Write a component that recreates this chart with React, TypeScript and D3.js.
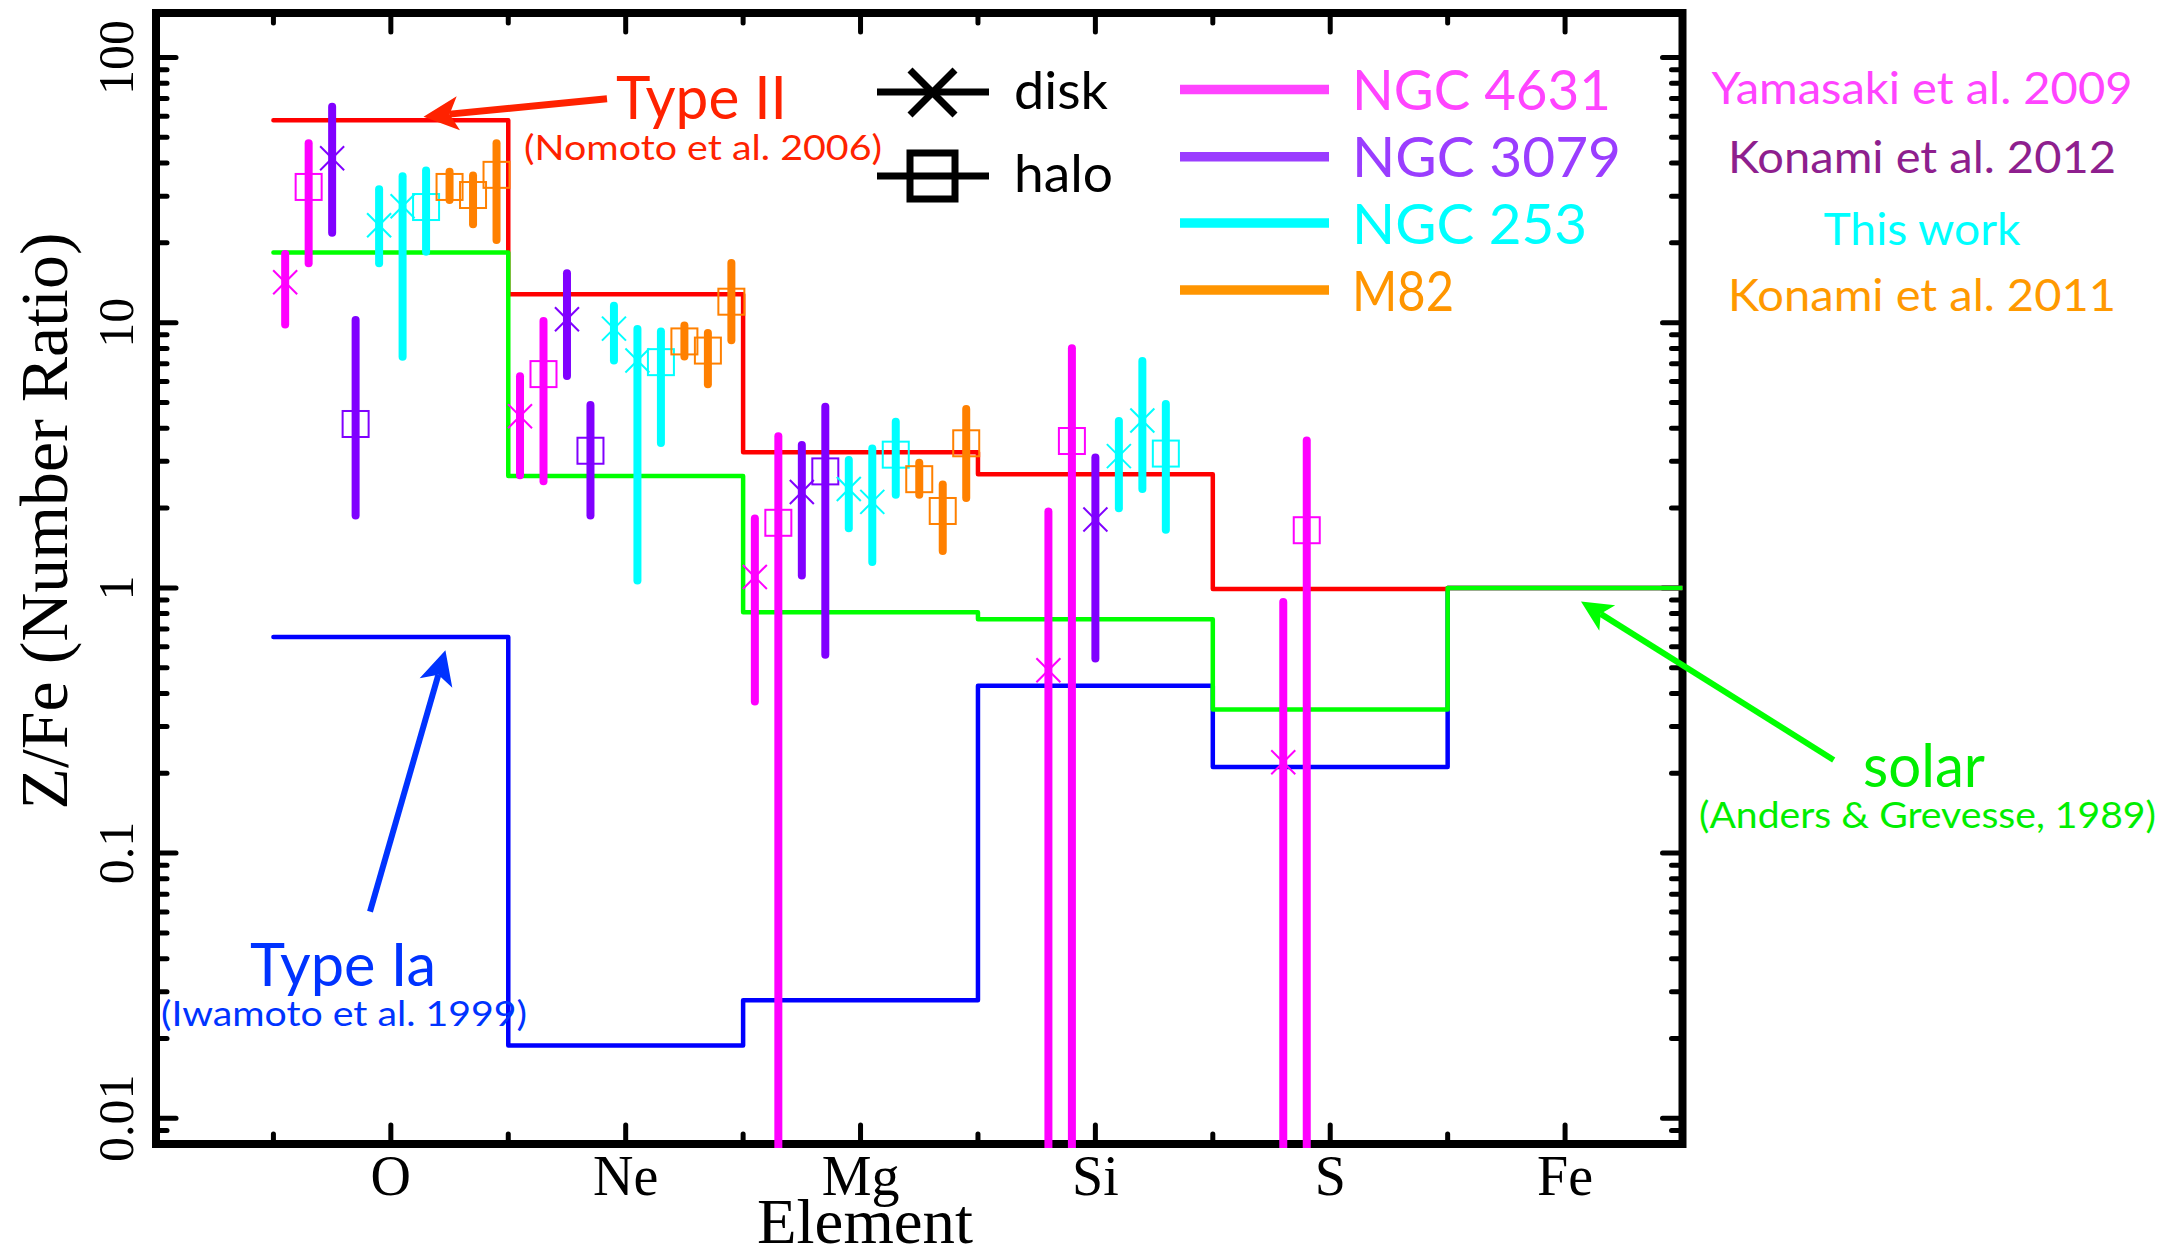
import React from "react";
import * as d3 from "d3";

// ---------- data ----------
const elements = ["O", "Ne", "Mg", "Si", "S", "Fe"];

// model step lines (Z/Fe number ratio per element)
const typeII = [58, 12.8, 3.25, 2.68, 0.99, 1.0];
const solar = [18.4, 2.64, 0.81, 0.762, 0.348, 1.0];
const typeIa = [0.653, 0.0188, 0.0279, 0.428, 0.211, 1.0];

type Pt = { el: string; dx: number; kind: "disk" | "halo"; v: number; lo: number; hi: number };

const ngc4631: Pt[] = [
  { el: "O", dx: -0.45, kind: "disk", v: 14.2, lo: 9.5, hi: 18.8 },
  { el: "O", dx: -0.35, kind: "halo", v: 32.5, lo: 16.2, hi: 49.2 },
  { el: "Ne", dx: -0.45, kind: "disk", v: 4.44, lo: 2.57, hi: 6.5 },
  { el: "Ne", dx: -0.35, kind: "halo", v: 6.4, lo: 2.44, hi: 10.5 },
  { el: "Mg", dx: -0.45, kind: "disk", v: 1.1, lo: 0.36, hi: 1.89 },
  { el: "Mg", dx: -0.35, kind: "halo", v: 1.76, lo: 0.001, hi: 3.86 },
  { el: "Si", dx: -0.2, kind: "disk", v: 0.489, lo: 0.001, hi: 2.01 },
  { el: "Si", dx: -0.1, kind: "halo", v: 3.58, lo: 0.001, hi: 8.3 },
  { el: "S", dx: -0.2, kind: "disk", v: 0.22, lo: 0.001, hi: 0.916 },
  { el: "S", dx: -0.1, kind: "halo", v: 1.65, lo: 0.001, hi: 3.72 },
];

const ngc3079: Pt[] = [
  { el: "O", dx: -0.25, kind: "disk", v: 41.7, lo: 21.1, hi: 67.5 },
  { el: "O", dx: -0.15, kind: "halo", v: 4.15, lo: 1.81, hi: 10.6 },
  { el: "Ne", dx: -0.25, kind: "disk", v: 10.3, lo: 6.08, hi: 15.9 },
  { el: "Ne", dx: -0.15, kind: "halo", v: 3.29, lo: 1.81, hi: 5.07 },
  { el: "Mg", dx: -0.25, kind: "disk", v: 2.3, lo: 1.076, hi: 3.58 },
  { el: "Mg", dx: -0.15, kind: "halo", v: 2.75, lo: 0.54, hi: 4.99 },
  { el: "Si", dx: 0.0, kind: "disk", v: 1.81, lo: 0.523, hi: 3.21 },
];

const ngc253: Pt[] = [
  { el: "O", dx: -0.05, kind: "disk", v: 23.3, lo: 16.2, hi: 33.0 },
  { el: "O", dx: 0.05, kind: "disk", v: 27.5, lo: 7.18, hi: 36.9 },
  { el: "O", dx: 0.15, kind: "halo", v: 27.3, lo: 17.9, hi: 38.8 },
  { el: "Ne", dx: -0.05, kind: "disk", v: 9.5, lo: 6.95, hi: 12.0 },
  { el: "Ne", dx: 0.05, kind: "disk", v: 7.2, lo: 1.03, hi: 9.8 },
  { el: "Ne", dx: 0.15, kind: "halo", v: 7.1, lo: 3.4, hi: 9.6 },
  { el: "Mg", dx: -0.05, kind: "disk", v: 2.36, lo: 1.62, hi: 3.14 },
  { el: "Mg", dx: 0.05, kind: "disk", v: 2.11, lo: 1.21, hi: 3.47 },
  { el: "Mg", dx: 0.15, kind: "halo", v: 3.18, lo: 2.17, hi: 4.38 },
  { el: "Si", dx: 0.1, kind: "disk", v: 3.14, lo: 1.93, hi: 4.41 },
  { el: "Si", dx: 0.2, kind: "disk", v: 4.28, lo: 2.28, hi: 7.43 },
  { el: "Si", dx: 0.3, kind: "halo", v: 3.21, lo: 1.6, hi: 5.11 },
];

const m82: Pt[] = [
  { el: "O", dx: 0.25, kind: "halo", v: 32.5, lo: 28.0, hi: 38.4 },
  { el: "O", dx: 0.35, kind: "halo", v: 30.3, lo: 22.7, hi: 37.2 },
  { el: "O", dx: 0.45, kind: "halo", v: 36.1, lo: 19.8, hi: 49.2 },
  { el: "Ne", dx: 0.25, kind: "halo", v: 8.5, lo: 7.2, hi: 10.1 },
  { el: "Ne", dx: 0.35, kind: "halo", v: 7.85, lo: 5.66, hi: 9.46 },
  { el: "Ne", dx: 0.45, kind: "halo", v: 12.0, lo: 8.3, hi: 17.4 },
  { el: "Mg", dx: 0.25, kind: "halo", v: 2.57, lo: 2.17, hi: 3.07 },
  { el: "Mg", dx: 0.35, kind: "halo", v: 1.95, lo: 1.33, hi: 2.54 },
  { el: "Mg", dx: 0.45, kind: "halo", v: 3.51, lo: 2.11, hi: 4.89 },
];

const galaxyNames = ["NGC 4631", "NGC 3079", "NGC 253", "M82"];
const galaxyRefs = ["Yamasaki et al. 2009", "Konami et al. 2012", "This work", "Konami et al. 2011"];
const galaxyData = [ngc4631, ngc3079, ngc253, m82];

const yMajorTicks = [0.01, 0.1, 1, 10, 100];
const yTickLabels = ["0.01", "0.1", "1", "10", "100"];

// ---------- styles ----------
const dataColors = ["#ff00ff", "#8000ff", "#00ffff", "#ff8000"];
const legendColors = ["#ff44ff", "#9a3dff", "#00ffff", "#ff9500"];
const refColors = ["#ff44ff", "#8e1f8e", "#00ffff", "#ff9900"];
const SANS = "Lato, 'Open Sans', sans-serif";
const SERIF = "'Liberation Serif', 'DejaVu Serif', serif";

function arrowPoly(tail: [number, number], tip: [number, number], headLen: number, halfW: number) {
  const dx = tip[0] - tail[0];
  const dy = tip[1] - tail[1];
  const L = Math.hypot(dx, dy);
  const ux = dx / L, uy = dy / L;
  const px = -uy, py = ux;
  const bx = tip[0] - ux * headLen, by = tip[1] - uy * headLen;
  const nx = tip[0] - ux * headLen * 0.75, ny = tip[1] - uy * headLen * 0.75;
  const pts = [
    [tip[0], tip[1]],
    [bx + px * halfW, by + py * halfW],
    [nx, ny],
    [bx - px * halfW, by - py * halfW],
  ];
  return {
    line: { x1: tail[0], y1: tail[1], x2: nx, y2: ny },
    poly: pts.map((p) => p.join(",")).join(" "),
  };
}

export default function App() {
  const W = 2179, H = 1251;
  const x = d3.scaleLinear().domain([0, 6.5]).range([156, 1682.5]);
  const y = d3.scaleLog().domain([0.01, 100]).range([1118.3, 57.5]);
  const top = 13, bottom = 1144;
  const left = x(0), right = x(6.5);

  const stepPath = (vals: number[]) => {
    const pts: [number, number][] = vals.map((v, i) => [i + 0.5, v]);
    pts.push([vals.length + 0.5, vals[vals.length - 1]]);
    return (
      d3
        .line<[number, number]>()
        .x((d) => x(d[0]))
        .y((d) => y(d[1]))
        .curve(d3.curveStepAfter)(pts) || ""
    );
  };

  // minor y ticks
  const yMinor: number[] = [];
  [0.001, 0.01, 0.1, 1, 10, 100].forEach((d) => {
    for (let k = 2; k <= 9; k++) {
      const v = k * d;
      const py = y(v);
      if (py > top + 2 && py < bottom - 2) yMinor.push(v);
    }
  });
  const xMajor = elements.map((_, i) => i + 1);
  const xMinor = elements.map((_, i) => i + 0.5);

  const arrRed = arrowPoly([607, 98.7], [423.5, 116.7], 35, 17);
  const arrBlue = arrowPoly([370, 911.7], [445.4, 650.3], 34, 17);
  const arrGreen = arrowPoly([1833.7, 760], [1581, 601.5], 31, 15);

  return (
    <div style={{ position: "absolute", left: 0, top: 0, background: "#fff" }}>
      <svg width={W} height={H} viewBox={`0 0 ${W} ${H}`} style={{ display: "block" }}>
        <defs>
          <clipPath id="plotClip">
            <rect x={left} y={top} width={right - left} height={bottom + 4 - top} />
          </clipPath>
        </defs>
        <rect x={0} y={0} width={W} height={H} fill="#fff" />

        {/* frame */}
        <rect x={left} y={top} width={right - left} height={bottom - top} fill="none" stroke="#000" strokeWidth={8} />

        {/* y ticks */}
        <g stroke="#000" strokeWidth={5} strokeLinecap="round">
          {yMajorTicks.map((v) => (
            <g key={"ym" + v}>
              <line x1={left} x2={left + 20} y1={y(v)} y2={y(v)} />
              <line x1={right} x2={right - 20} y1={y(v)} y2={y(v)} />
            </g>
          ))}
          {yMinor.map((v) => (
            <g key={"yn" + v}>
              <line x1={left} x2={left + 11} y1={y(v)} y2={y(v)} />
              <line x1={right} x2={right - 11} y1={y(v)} y2={y(v)} />
            </g>
          ))}
          {xMajor.map((v) => (
            <g key={"xm" + v}>
              <line x1={x(v)} x2={x(v)} y1={bottom} y2={bottom - 19} />
              <line x1={x(v)} x2={x(v)} y1={top} y2={top + 19} />
            </g>
          ))}
          {xMinor.map((v) => (
            <g key={"xn" + v}>
              <line x1={x(v)} x2={x(v)} y1={bottom} y2={bottom - 10} />
              <line x1={x(v)} x2={x(v)} y1={top} y2={top + 10} />
            </g>
          ))}
        </g>

        {/* y tick labels */}
        {yMajorTicks.map((v, i) => (
          <text
            key={"yl" + v}
            transform={`translate(133,${y(v)}) rotate(-90)`}
            textAnchor="middle"
            fontFamily={SERIF}
            fontSize={50}
            fill="#000"
          >
            {yTickLabels[i]}
          </text>
        ))}
        {/* x tick labels */}
        {elements.map((e, i) => (
          <text key={"xl" + e} x={x(i + 1)} y={1195} textAnchor="middle" fontFamily={SERIF} fontSize={56} fill="#000">
            {e}
          </text>
        ))}
        <text x={865} y={1243} textAnchor="middle" fontFamily={SERIF} fontSize={64} textLength={216} lengthAdjust="spacingAndGlyphs">
          Element
        </text>
        <text
          transform="translate(67,521) rotate(-90)"
          textAnchor="middle"
          fontFamily={SERIF}
          fontSize={68}
          textLength={577}
          lengthAdjust="spacingAndGlyphs"
        >
          Z/Fe (Number Ratio)
        </text>

        {/* model step lines */}
        <g clipPath="url(#plotClip)" fill="none" strokeWidth={4.5} strokeLinejoin="round" strokeLinecap="round">
          <path d={stepPath(typeIa)} stroke="#0000ff" />
          <path d={stepPath(typeII)} stroke="#ff0000" />
          <path d={stepPath(solar)} stroke="#00ff00" />
        </g>

        {/* data */}
        <g clipPath="url(#plotClip)">
          {galaxyData.map((arr, gi) =>
            arr.map((p, pi) => {
              const px = x(elements.indexOf(p.el) + 1 + p.dx);
              const yHi = y(p.hi) + 4;
              const yLo = y(p.lo) - 4;
              const py = y(p.v);
              const c = dataColors[gi];
              return (
                <g key={`d${gi}-${pi}`}>
                  <line x1={px} x2={px} y1={yHi} y2={yLo} stroke={c} strokeWidth={8} strokeLinecap="round" />
                  {p.kind === "disk" ? (
                    <g stroke={c} strokeWidth={2}>
                      <line x1={px - 12} y1={py - 12} x2={px + 12} y2={py + 12} />
                      <line x1={px - 12} y1={py + 12} x2={px + 12} y2={py - 12} />
                    </g>
                  ) : (
                    <rect x={px - 13} y={py - 13} width={26} height={26} fill="none" stroke={c} strokeWidth={2} />
                  )}
                </g>
              );
            })
          )}
        </g>

        {/* annotations */}
        <g>
          <line {...arrRed.line} stroke="#ff2200" strokeWidth={7} />
          <polygon points={arrRed.poly} fill="#ff2200" />
          <text x={616} y={119} fontFamily={SANS} fontSize={60} fill="#ff2200" textLength={171} lengthAdjust="spacingAndGlyphs">
            Type II
          </text>
          <text x={524} y={160} fontFamily={SANS} fontSize={34} fill="#ff2200" textLength={358} lengthAdjust="spacingAndGlyphs">
            (Nomoto et al. 2006)
          </text>

          <line {...arrBlue.line} stroke="#0033ff" strokeWidth={6} />
          <polygon points={arrBlue.poly} fill="#0033ff" />
          <text x={250} y={986} fontFamily={SANS} fontSize={60} fill="#0033ff" textLength={186} lengthAdjust="spacingAndGlyphs">
            Type Ia
          </text>
          <text x={161} y={1026} fontFamily={SANS} fontSize={34} fill="#0033ff" textLength={366} lengthAdjust="spacingAndGlyphs">
            (Iwamoto et al. 1999)
          </text>

          <line {...arrGreen.line} stroke="#00ff00" strokeWidth={6} />
          <polygon points={arrGreen.poly} fill="#00ff00" />
          <text x={1863} y={787} fontFamily={SANS} fontSize={60} fill="#00ee00" textLength={122} lengthAdjust="spacingAndGlyphs">
            solar
          </text>
          <text x={1699} y={828} fontFamily={SANS} fontSize={36} fill="#00ee00" textLength={457} lengthAdjust="spacingAndGlyphs">
            (Anders &amp; Grevesse, 1989)
          </text>
        </g>

        {/* disk / halo legend */}
        <g stroke="#000" strokeWidth={7} fill="none">
          <line x1={877} x2={989} y1={92} y2={92} />
          <line x1={910} y1={70} x2={955} y2={115} />
          <line x1={910} y1={115} x2={955} y2={70} />
          <line x1={877} x2={989} y1={176} y2={176} />
          <rect x={910} y={153} width={45} height={46} />
        </g>
        <text x={1014} y={109} fontFamily={SANS} fontSize={52} fill="#000" textLength={94} lengthAdjust="spacingAndGlyphs">
          disk
        </text>
        <text x={1014} y={192} fontFamily={SANS} fontSize={52} fill="#000" textLength={99} lengthAdjust="spacingAndGlyphs">
          halo
        </text>

        {/* galaxy legend */}
        {galaxyNames.map((n, i) => {
          const ly = [89.5, 156.7, 223, 290][i];
          const tl = [259, 269, 235, 102][i];
          return (
            <g key={n}>
              <line x1={1180} x2={1329} y1={ly} y2={ly} stroke={legendColors[i]} strokeWidth={9.5} />
              <text x={1352} y={ly + 20.5} fontFamily={SANS} fontSize={56} fill={legendColors[i]} textLength={tl} lengthAdjust="spacingAndGlyphs">
                {n}
              </text>
            </g>
          );
        })}
        {galaxyRefs.map((r, i) => {
          const by = [103.5, 173, 245, 311][i];
          const tl = [421, 388, 197, 388][i];
          return (
            <text key={r} x={1922} y={by} textAnchor="middle" fontFamily={SANS} fontSize={44} fill={refColors[i]} textLength={tl} lengthAdjust="spacingAndGlyphs">
              {r}
            </text>
          );
        })}
      </svg>
    </div>
  );
}
